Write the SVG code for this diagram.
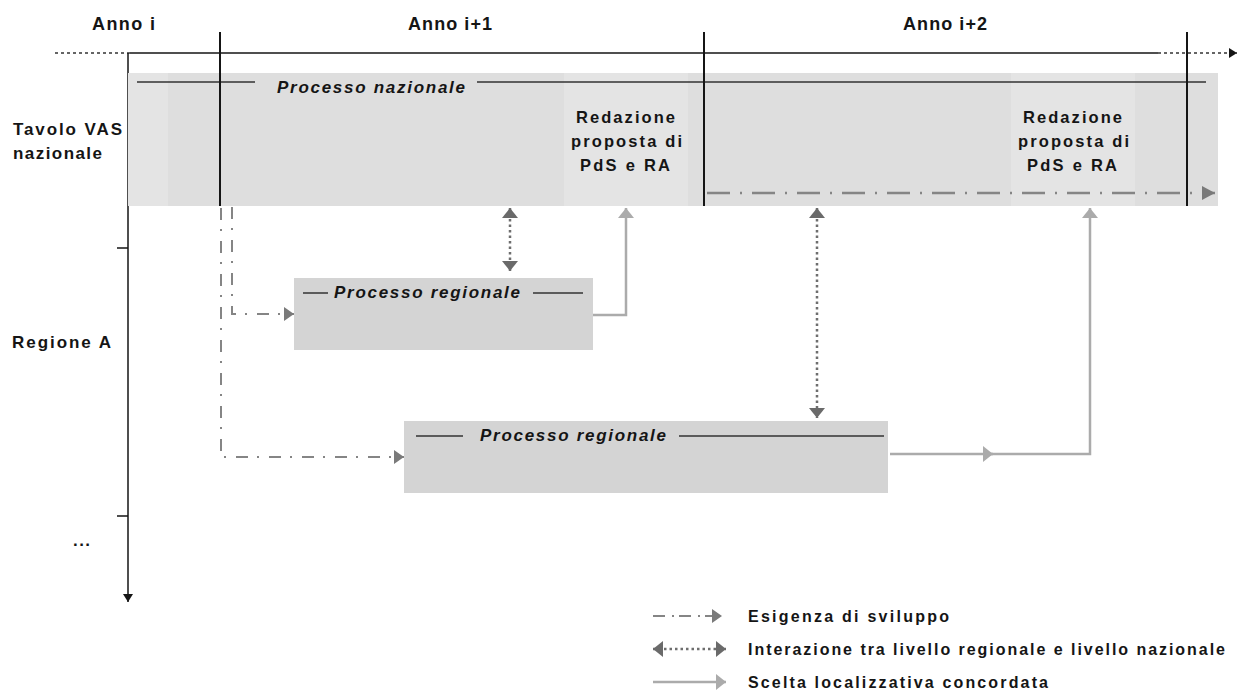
<svg xmlns="http://www.w3.org/2000/svg" width="1239" height="691" viewBox="0 0 1239 691">
<style>
  text{font-family:"Liberation Sans",Arial,sans-serif;font-weight:bold;fill:#151515;}
  .t16{font-size:17px}
  .t17{font-size:18px}
  .rd{font-size:16.5px}
  .it{font-style:italic}
  .lg{font-size:16px}
  .axis{stroke:#151515;stroke-width:1.5;fill:none}
  .year{stroke:#151515;stroke-width:2;fill:none}
  .title{stroke:#333;stroke-width:1.5;fill:none}
  .band{fill:#dedede}
  .bandl{fill:#e4e4e4}
  .box{fill:#d4d4d4}
  .dd{stroke:#858585;stroke-width:2;fill:none;stroke-dasharray:12 9 2 10}
  .ddb{stroke:#858585;stroke-width:2.5;fill:none;stroke-dasharray:23 10 2 10}
  .ddl{stroke:#858585;stroke-width:2;fill:none;stroke-dasharray:12 7 2 5}
  .dot{stroke:#6e6e6e;stroke-width:2.5;fill:none;stroke-dasharray:2.5 3}
  .sol{stroke:#ababab;stroke-width:2.5;fill:none}
  .dotax{stroke:#333;stroke-width:1.5;fill:none;stroke-dasharray:3 3}
</style>
<defs>
  <marker id="aDD" markerUnits="userSpaceOnUse" markerWidth="11" markerHeight="14" refX="10" refY="7" orient="auto"><path d="M0,0 L10,7 L0,14 Z" fill="#7a7a7a"/></marker>
  <marker id="aDDb" markerUnits="userSpaceOnUse" markerWidth="14" markerHeight="14" refX="13" refY="7" orient="auto"><path d="M0,0 L13,7 L0,14 Z" fill="#7a7a7a"/></marker>
  <marker id="aDot" markerUnits="userSpaceOnUse" markerWidth="11" markerHeight="16" refX="10" refY="8" orient="auto-start-reverse"><path d="M0,0 L10,8 L0,16 Z" fill="#6a6a6a"/></marker>
  <marker id="aSol" markerUnits="userSpaceOnUse" markerWidth="11" markerHeight="16" refX="10" refY="8" orient="auto"><path d="M0,0 L10,8 L0,16 Z" fill="#ababab"/></marker>
  <marker id="aBlk" markerUnits="userSpaceOnUse" markerWidth="9" markerHeight="10" refX="8" refY="5" orient="auto"><path d="M0,0 L8,5 L0,10 Z" fill="#151515"/></marker>
</defs>

<g id="axes">
  <path class="dotax" d="M55,53 H130"/>
  <path class="axis" d="M130,53 H1158"/>
  <path class="dotax" d="M1158,53 H1237" marker-end="url(#aBlk)"/>
  <path class="axis" d="M128,53 V602" marker-end="url(#aBlk)"/>
  <path class="axis" d="M117,248 H128 M117,516 H128"/>
</g>

<g id="tavolo-nazionale">
  <rect class="band" x="128" y="73" width="1090" height="133"/>
  <rect class="bandl" x="128" y="73" width="40" height="133"/>
  <rect class="bandl" x="564" y="73" width="124" height="133"/>
  <rect class="bandl" x="1011" y="73" width="124" height="133"/>
  <path class="title" d="M137,82 H255 M477,82 H1206"/>
  <text class="t16 it" x="277" y="93" textLength="188">Processo nazionale</text>
</g>

<g id="redazione-1">
  <text class="rd" x="576" y="123" textLength="99">Redazione</text>
  <text class="rd" x="571" y="147" textLength="111">proposta di</text>
  <text class="rd" x="580" y="171" textLength="90">PdS e RA</text>
</g>

<g id="redazione-2">
  <text class="rd" x="1023" y="123" textLength="99">Redazione</text>
  <text class="rd" x="1018" y="147" textLength="111">proposta di</text>
  <text class="rd" x="1027" y="171" textLength="90">PdS e RA</text>
</g>

<g id="years">
  <path class="year" d="M220,32 V206 M704,32 V206 M1187,32 V206"/>
  <text class="t17" x="92" y="30" textLength="63">Anno i</text>
  <text class="t17" x="408" y="30" textLength="84">Anno i+1</text>
  <text class="t17" x="903" y="30" textLength="84">Anno i+2</text>
</g>

<g id="row-labels">
  <text class="t16" x="13" y="135" textLength="109">Tavolo VAS</text>
  <text class="t16" x="13" y="159" textLength="89">nazionale</text>
  <text class="t16" x="12" y="348" textLength="99">Regione A</text>
  <text class="t16" x="73" y="546" textLength="17">...</text>
</g>

<g id="processo-regionale-1">
  <rect class="box" x="294" y="278" width="299" height="72"/>
  <path class="title" d="M303,293 H328 M533,293 H583"/>
  <text class="t16 it" x="334" y="298" textLength="186">Processo regionale</text>
</g>

<g id="processo-regionale-2">
  <rect class="box" x="404" y="421" width="484" height="72"/>
  <path class="title" d="M416,436 H463 M679,436 H884"/>
  <text class="t16 it" x="480" y="441" textLength="186">Processo regionale</text>
</g>

<g id="connectors">
  <path class="ddb" d="M707,193 H1215" marker-end="url(#aDDb)"/>
  <path class="dd" d="M232,207 V314 H294" marker-end="url(#aDD)"/>
  <path class="dd" d="M221,208 V457 H404" marker-end="url(#aDD)"/>
  <path class="dot" d="M510,208 V271" marker-start="url(#aDot)" marker-end="url(#aDot)"/>
  <path class="dot" d="M817,208 V418" marker-start="url(#aDot)" marker-end="url(#aDot)"/>
  <path class="sol" d="M593,315 H626 V208" marker-end="url(#aSol)"/>
  <path class="sol" d="M890,454 H993" marker-end="url(#aSol)"/>
  <path class="sol" d="M990,454 H1090 V208" marker-end="url(#aSol)"/>
</g>

<g id="legend">
  <path class="ddl" d="M653,616 H722" marker-end="url(#aDD)"/>
  <text class="lg" x="748" y="622" textLength="201">Esigenza di sviluppo</text>
  <path class="dot" d="M653,649 H726" marker-start="url(#aDot)" marker-end="url(#aDot)"/>
  <text class="lg" x="748" y="655" textLength="477">Interazione tra livello regionale e livello nazionale</text>
  <path class="sol" d="M653,682 H726" marker-end="url(#aSol)"/>
  <text class="lg" x="748" y="688" textLength="300">Scelta localizzativa concordata</text>
</g>
</svg>
